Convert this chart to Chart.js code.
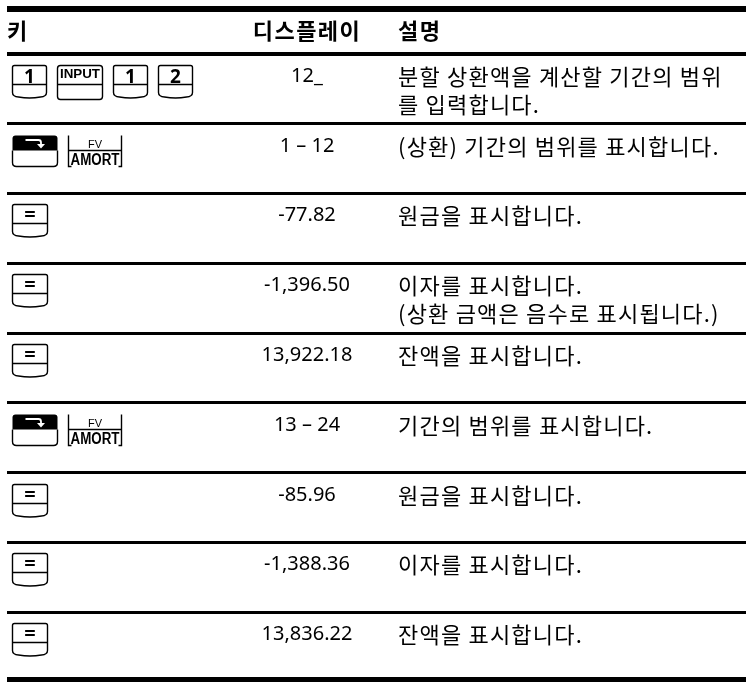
<!DOCTYPE html>
<html>
<head>
<meta charset="utf-8">
<script src="https://cdn.jsdelivr.net/npm/chart.js@4.4.0/dist/chart.umd.min.js"></script>
<style>
  html, body { margin: 0; padding: 0; background: #fff; }
  canvas { display: block; }
</style>
</head>
<body>
<canvas id="amort-table" width="746" height="682"></canvas>
<script>
// --- table content ---
const headers = ["키", "디스플레이", "설명"];

// keys pressed per row (SHIFT = shift key, AMORT = FV/AMORT key)
const keyRows = [
  ["1", "INPUT", "1", "2"],
  ["SHIFT", "AMORT"],
  ["="],
  ["="],
  ["="],
  ["SHIFT", "AMORT"],
  ["="],
  ["="],
  ["="],
];

const displays = [
  "12_",
  "1 – 12",
  "-77.82",
  "-1,396.50",
  "13,922.18",
  "13 – 24",
  "-85.96",
  "-1,388.36",
  "13,836.22",
];

const descriptions = [
  ["분할 상환액을 계산할 기간의 범위", "를 입력합니다."],
  ["(상환) 기간의 범위를 표시합니다."],
  ["원금을 표시합니다."],
  ["이자를 표시합니다.", "(상환 금액은 음수로 표시됩니다.)"],
  ["잔액을 표시합니다."],
  ["기간의 범위를 표시합니다."],
  ["원금을 표시합니다."],
  ["이자를 표시합니다."],
  ["잔액을 표시합니다."],
];

// rule positions in row units: top border, header rule, one per row
const rules = [-0.642, 0].concat(displays.map((d, i) => i + 1));

// column anchors (table units, 0 = left end of the rules)
const COLS = { key: 5, display: 300, desc: 391, header: 0 };

const KEY_W = { digit: 34, "=": 35, INPUT: 45, SHIFT: 45, AMORT: 53 };
const KEY_GAP = 11;

const NUM_FONT = '20px "Noto Sans", sans-serif';
const KO_FONT = '22px "Noto Sans CJK KR", sans-serif';
const HEAD_FONT = 'bold 22px "Noto Sans CJK KR", sans-serif';

// draw text squeezed/stretched to a given width
function fitText(ctx, text, cx, baseline, width) {
  const m = ctx.measureText(text).width;
  ctx.save();
  ctx.translate(cx, baseline);
  ctx.scale(width / m, 1);
  ctx.textAlign = "center";
  ctx.fillText(text, 0, 0);
  ctx.restore();
}

function drawDigitKey(ctx, label, x, y, w) {
  const h = 33;
  const mid = 19;
  ctx.beginPath();
  ctx.moveTo(x, y + h - 6);
  ctx.lineTo(x, y + 2);
  ctx.quadraticCurveTo(x, y, x + 2, y);
  ctx.lineTo(x + w - 2, y);
  ctx.quadraticCurveTo(x + w, y, x + w, y + 2);
  ctx.lineTo(x + w, y + h - 6);
  ctx.quadraticCurveTo(x + w, y + h - 2, x + w - 6, y + h - 1.5);
  ctx.quadraticCurveTo(x + w / 2, y + h + 0.5, x + 6, y + h - 1.5);
  ctx.quadraticCurveTo(x, y + h - 2, x, y + h - 6);
  ctx.moveTo(x, y + mid);
  ctx.lineTo(x + w, y + mid);
  ctx.stroke();

  ctx.textAlign = "center";
  if (label === "=") {
    ctx.font = 'bold 20px "Noto Sans", sans-serif';
    ctx.fillText("=", x + w / 2, y + mid - 3);
  } else {
    ctx.font = 'bold 19px "Noto Sans", sans-serif';
    ctx.fillText(label, x + w / 2, y + mid - 2);
  }
}

function drawInputKey(ctx, x, y, w) {
  const h = 34;
  const r = 3;
  ctx.beginPath();
  ctx.moveTo(x + r, y);
  ctx.lineTo(x + w - r, y);
  ctx.quadraticCurveTo(x + w, y, x + w, y + r);
  ctx.lineTo(x + w, y + h - r);
  ctx.quadraticCurveTo(x + w, y + h, x + w - r, y + h);
  ctx.lineTo(x + r, y + h);
  ctx.quadraticCurveTo(x, y + h, x, y + h - r);
  ctx.lineTo(x, y + r);
  ctx.quadraticCurveTo(x, y, x + r, y);
  ctx.moveTo(x, y + 19);
  ctx.lineTo(x + w, y + 19);
  ctx.stroke();
  ctx.font = 'bold 12px "Liberation Sans", sans-serif';
  fitText(ctx, "INPUT", x + w / 2, y + 12.5, w - 5);
}

function drawShiftKey(ctx, x, y, w) {
  const h = 31;
  const top = 15;
  const r = 3;
  // black upper half
  ctx.beginPath();
  ctx.moveTo(x, y + top);
  ctx.lineTo(x, y + r);
  ctx.quadraticCurveTo(x, y, x + r, y);
  ctx.lineTo(x + w - r, y);
  ctx.quadraticCurveTo(x + w, y, x + w, y + r);
  ctx.lineTo(x + w, y + top);
  ctx.closePath();
  ctx.fill();
  // white lower half outline
  ctx.beginPath();
  ctx.moveTo(x, y + top);
  ctx.lineTo(x, y + h - 4);
  ctx.quadraticCurveTo(x, y + h, x + 4, y + h);
  ctx.lineTo(x + w - 4, y + h);
  ctx.quadraticCurveTo(x + w, y + h, x + w, y + h - 4);
  ctx.lineTo(x + w, y + top);
  ctx.stroke();
  // white bent arrow
  ctx.save();
  ctx.strokeStyle = "#fff";
  ctx.fillStyle = "#fff";
  ctx.lineWidth = 1.8;
  ctx.beginPath();
  ctx.moveTo(x + 13, y + 4.5);
  ctx.lineTo(x + 26, y + 4.5);
  ctx.quadraticCurveTo(x + 28.5, y + 4.5, x + 28.5, y + 7);
  ctx.lineTo(x + 28.5, y + 9);
  ctx.stroke();
  ctx.beginPath();
  ctx.moveTo(x + 24.5, y + 8.5);
  ctx.lineTo(x + 32.5, y + 8.5);
  ctx.lineTo(x + 28.5, y + 13);
  ctx.closePath();
  ctx.fill();
  ctx.restore();
}

function drawAmortKey(ctx, x, y, w) {
  const h = 31;
  const split = 15;
  ctx.beginPath();
  ctx.moveTo(x, y);
  ctx.lineTo(x, y + h);
  ctx.lineTo(x + 3, y + h);
  ctx.moveTo(x + w, y);
  ctx.lineTo(x + w, y + h);
  ctx.lineTo(x + w - 3, y + h);
  ctx.moveTo(x, y + split);
  ctx.lineTo(x + w, y + split);
  ctx.stroke();
  ctx.textAlign = "center";
  ctx.font = '11px "Liberation Sans", sans-serif';
  ctx.fillText("FV", x + w / 2, y + 12);
  ctx.font = 'bold 16px "Liberation Sans", sans-serif';
  fitText(ctx, "AMORT", x + w / 2, y + 29.5, w - 4);
}

function drawKey(ctx, key, x, y) {
  if (key === "INPUT") {
    drawInputKey(ctx, x, y, KEY_W.INPUT);
    return KEY_W.INPUT;
  }
  if (key === "SHIFT") {
    drawShiftKey(ctx, x, y, KEY_W.SHIFT);
    return KEY_W.SHIFT;
  }
  if (key === "AMORT") {
    drawAmortKey(ctx, x, y, KEY_W.AMORT);
    return KEY_W.AMORT;
  }
  const w = key === "=" ? KEY_W["="] : KEY_W.digit;
  drawDigitKey(ctx, key, x, y, w);
  return w;
}

// draws headers, keys, display values and descriptions at the scale positions
const tableCells = {
  id: "tableCells",
  afterDatasetsDraw(chart) {
    const ctx = chart.ctx;
    const xs = chart.scales.x;
    const ys = chart.scales.y;
    ctx.save();
    ctx.fillStyle = "#000";
    ctx.strokeStyle = "#000";
    ctx.lineWidth = 1.4;
    ctx.textBaseline = "alphabetic";

    // header row
    const headBase = ys.getPixelForValue(0) - 15;
    ctx.font = HEAD_FONT;
    ctx.letterSpacing = "1.5px";
    ctx.textAlign = "left";
    ctx.fillText(headers[0], xs.getPixelForValue(COLS.header), headBase);
    ctx.textAlign = "center";
    ctx.fillText(headers[1], xs.getPixelForValue(COLS.display), headBase);
    ctx.textAlign = "left";
    ctx.fillText(headers[2], xs.getPixelForValue(COLS.desc), headBase);
    ctx.letterSpacing = "0px";

    // keys
    chart.getDatasetMeta(0).data.forEach((el, i) => {
      let cx = Math.round(el.x);
      const top = Math.round(el.y) + 11.5;
      keyRows[i].forEach((k) => {
        const w = drawKey(ctx, k, cx + 0.5, top);
        cx += w + KEY_GAP;
      });
    });

    // display values
    ctx.font = NUM_FONT;
    ctx.textAlign = "center";
    chart.getDatasetMeta(1).data.forEach((el, i) => {
      ctx.fillText(displays[i], el.x, el.y + 28);
    });

    // descriptions
    ctx.font = KO_FONT;
    ctx.letterSpacing = "1.2px";
    ctx.textAlign = "left";
    chart.getDatasetMeta(2).data.forEach((el, i) => {
      descriptions[i].forEach((line, j) => {
        ctx.fillText(line, el.x, el.y + 31 + j * 28);
      });
    });
    ctx.restore();
  },
};

const rowAnchors = (col) => displays.map((d, i) => ({ x: col, y: i }));

new Chart(document.getElementById("amort-table"), {
  type: "scatter",
  data: {
    datasets: [
      { label: headers[0], data: rowAnchors(COLS.key), pointRadius: 0 },
      { label: headers[1], data: rowAnchors(COLS.display), pointRadius: 0 },
      { label: headers[2], data: rowAnchors(COLS.desc), pointRadius: 0 },
    ],
  },
  options: {
    responsive: false,
    animation: false,
    events: [],
    layout: { padding: { left: 7, right: 0, top: 0, bottom: 0 } },
    plugins: {
      legend: { display: false },
      tooltip: { enabled: false },
    },
    scales: {
      x: { type: "linear", display: false, min: 0, max: 739 },
      y: {
        type: "linear",
        reverse: true,
        min: -0.7708,
        max: 9,
        afterBuildTicks: (scale) => {
          scale.ticks = rules.map((v) => ({ value: v }));
        },
        ticks: { display: false, autoSkip: false },
        border: { display: false },
        grid: {
          drawTicks: false,
          color: "#000",
          lineWidth: (c) => {
            const v = c.tick ? c.tick.value : 1;
            if (v < 0) return 6;
            if (v === 0) return 4;
            if (v === 9) return 10;
            return 3;
          },
        },
      },
    },
  },
  plugins: [tableCells],
});
</script>
</body>
</html>
